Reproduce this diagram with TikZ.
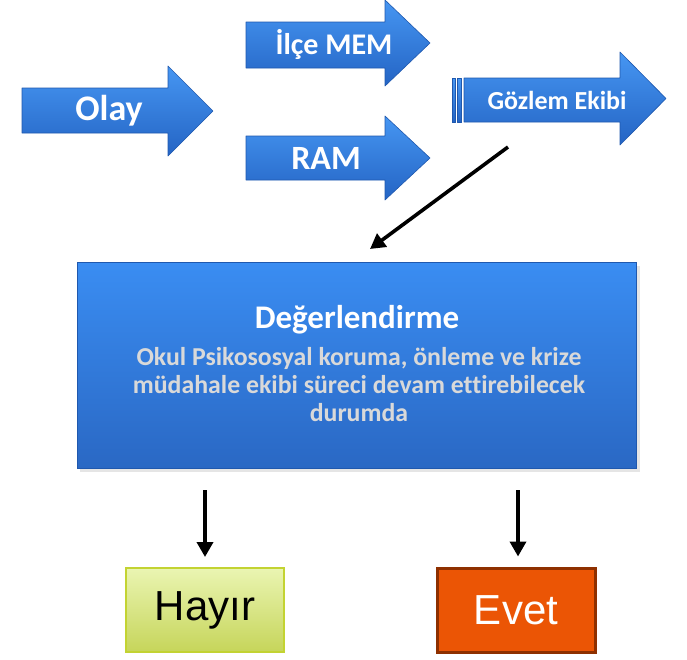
\documentclass[tikz,border=0pt]{standalone}
\usepackage{fontspec}
\setmainfont{Carlito}[Ligatures=NoCommon]
\newfontfamily\arialf{Liberation Sans}
\usetikzlibrary{arrows.meta}
\definecolor{bluetop}{HTML}{4696F2}
\definecolor{bluebot}{HTML}{2464C4}
\definecolor{blueedge}{HTML}{1F58AE}
\definecolor{boxtop}{HTML}{3A8DF2}
\definecolor{boxbot}{HTML}{2A68C4}
\definecolor{subgray}{HTML}{D9D9D9}
\definecolor{hytop}{HTML}{EAF5B2}
\definecolor{hybot}{HTML}{C6D55A}
\definecolor{hyedge}{HTML}{C3D332}
\definecolor{evfill}{HTML}{EB5505}
\definecolor{evedge}{HTML}{8E3000}
\tikzset{
  bluesh/.style={top color=bluetop, bottom color=bluebot, draw=blueedge, line width=0.6pt, line join=round},
  arrlabel/.style={text=white, font=\bfseries\fontsize{30}{34}\selectfont, inner sep=0pt},
  conn/.style={line width=3.6pt, -{Triangle[length=15pt,width=16pt]}},
}
\newcommand\myblockarrow[7]{%
  \path[bluesh] (#1,#3) -- (#2,#3) -- (#2,#5) -- (#7,{(#5+#6)/2}) -- (#2,#6) -- (#2,#4) -- (#1,#4) -- cycle;}
\begin{document}
\begin{tikzpicture}[x=1pt,y=-1pt]
\useasboundingbox (0,0) rectangle (687,659);
% block arrows
\myblockarrow{22}{168}{88}{133}{66}{156}{213}
\myblockarrow{246}{385}{22}{68}{0}{86}{430}
\myblockarrow{246}{385}{136}{180}{116}{200}{430}
\myblockarrow{464}{620}{78}{122}{52}{145}{666}
\path[bluesh] (452,78) rectangle (455.5,122);
\path[bluesh] (457.5,78) rectangle (461.5,122);
\node[arrlabel, font=\bfseries\fontsize{36}{40}\selectfont] (olay) at (109,111) {Olay};
\node[arrlabel] (ilce) at (334,44) {İlçe MEM};
\node[arrlabel, font=\bfseries\fontsize{34}{38}\selectfont] (ram) at (326,158) {RAM};
\node[arrlabel, font=\bfseries\fontsize{26}{30}\selectfont] (gozlem) at (557,100) {Gözlem Ekibi};
% big box
\fill[gray!40, opacity=0.5] (80,266) rectangle (640,472);
\path[top color=boxtop, bottom color=boxbot, draw=blueedge, line width=0.8pt] (77,262) rectangle (636,468);
\node (box) at (356.5,365) {};
\node[text=white, font=\bfseries\fontsize{33}{38}\selectfont, inner sep=0pt] (title) at (357,320) {Değerlendirme};
\node[text=subgray, font=\bfseries\fontsize{25.8}{28}\selectfont, align=center, inner sep=0pt] (sub) at (359,385)
  {Okul Psikososyal koruma, önleme ve krize\\müdahale ekibi süreci devam ettirebilecek\\durumda};
% answer boxes
\node[draw=hyedge, line width=2pt, top color=hytop, bottom color=hybot, minimum width=158pt, minimum height=84pt, inner sep=0pt,
      font=\arialf\fontsize{42}{46}\selectfont] (hayir) at (205,610) {Hayır};
\node[draw=evedge, line width=3pt, fill=evfill, text=white, minimum width=158pt, minimum height=84pt, inner sep=0pt,
      font=\arialf\fontsize{42}{46}\selectfont] (evet) at (516,610) {Evet};
% connectors
\coordinate (g1) at (508,147);
\coordinate (g2) at (370,249);
\draw[conn] (g1) -- (g2);
\coordinate (h1) at (205,490);
\coordinate (e1) at (518,490);
\draw[conn] (h1) -- ([yshift=10pt]hayir.north);
\draw[conn] (e1) -- ([xshift=2pt,yshift=10pt]evet.north);
\end{tikzpicture}
\end{document}
